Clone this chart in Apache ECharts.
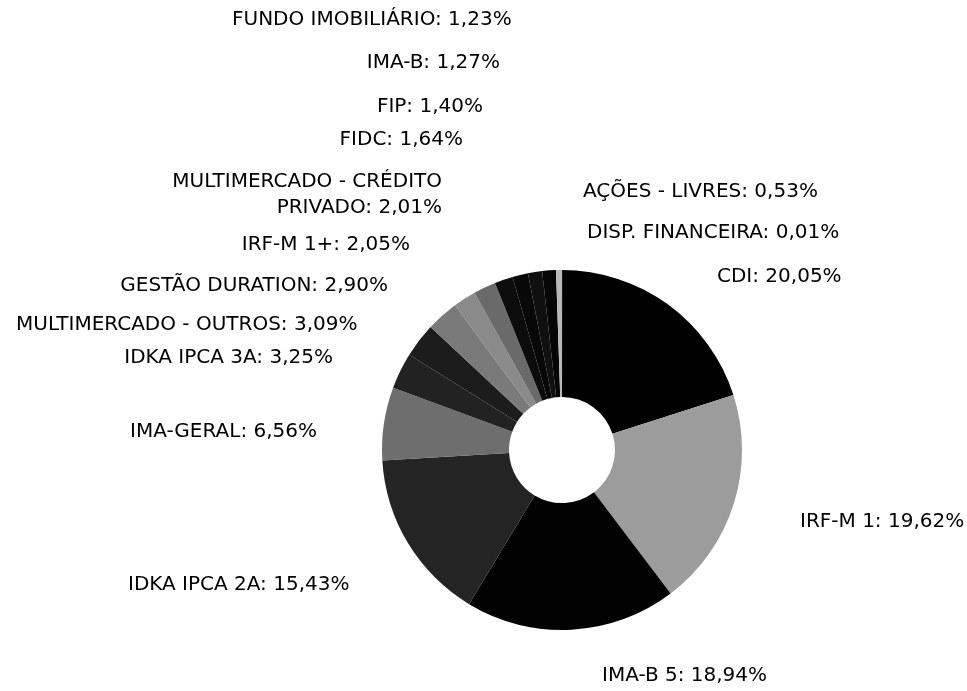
<!DOCTYPE html>
<html>
<head>
<meta charset="utf-8">
<script src="https://cdn.jsdelivr.net/npm/echarts@6/dist/echarts.min.js"></script>
<style>
html,body{margin:0;padding:0;background:#fff;}
#chart{width:967px;height:691px;}
</style>
</head>
<body>
<div id="chart"></div>
<script>
// Data
const categories = ['DISP. FINANCEIRA','CDI','IRF-M 1','IMA-B 5','IDKA IPCA 2A','IMA-GERAL','IDKA IPCA 3A','MULTIMERCADO - OUTROS','GESTÃO DURATION','IRF-M 1+','MULTIMERCADO - CRÉDITO PRIVADO','FIDC','FIP','IMA-B','FUNDO IMOBILIÁRIO','AÇÕES - LIVRES'];
const values = [0.01,20.05,19.62,18.94,15.43,6.56,3.25,3.09,2.90,2.05,2.01,1.64,1.40,1.27,1.23,0.53];

// Styles (kept apart from data)
const sliceColors = ['#ffffff','#000000','#9c9c9c','#020202','#242424','#6e6e6e','#222222','#1c1c1c','#7a7a7a','#8a8a8a','#6a6a6a','#0c0c0c','#080808','#101010','#060606','#b8b8b8'];
// label anchor: [x, y, align]
const labelAnchors = [
  [587,233,'left'],[717,277,'left'],[800,522,'left'],[602,676,'left'],
  [128,585,'left'],[130,432,'left'],[333,358,'right'],[16,325,'left'],
  [388,286,'right'],[410,245,'right'],[442,195,'right'],[463,140,'right'],
  [483,107,'right'],[500,63,'right'],[232,20,'left'],[583,192,'left']
];

function fmt(v){ return v.toFixed(2).replace('.', ','); }

const chart = echarts.init(document.getElementById('chart'), null, {renderer:'canvas'});
chart.setOption({
  backgroundColor:'#ffffff',
  animation:false,
  series:[{
    type:'pie',
    center:[562,450],
    radius:[53,180],
    startAngle:90,
    clockwise:true,
    avoidLabelOverlap:false,
    itemStyle:{borderWidth:0},
    label:{
      show:true,
      color:'#000',
      fontFamily:'DejaVu Sans',
      fontSize:20,
      lineHeight:26,
      formatter:function(p){
        let n = p.name.replace('CRÉDITO PRIVADO','CRÉDITO\nPRIVADO');
        return n + ': ' + fmt(p.value) + '%';
      }
    },
    labelLine:{show:false},
    labelLayout:function(p){
      const a = labelAnchors[p.dataIndex];
      return {x:a[0], y:a[1], align:a[2], verticalAlign:'middle', hideOverlap:false, moveOverlap:false};
    },
    emphasis:{disabled:true},
    data: categories.map((c,i)=>({name:c, value:values[i], itemStyle:{color:sliceColors[i]}}))
  }]
});
</script>
</body>
</html>
